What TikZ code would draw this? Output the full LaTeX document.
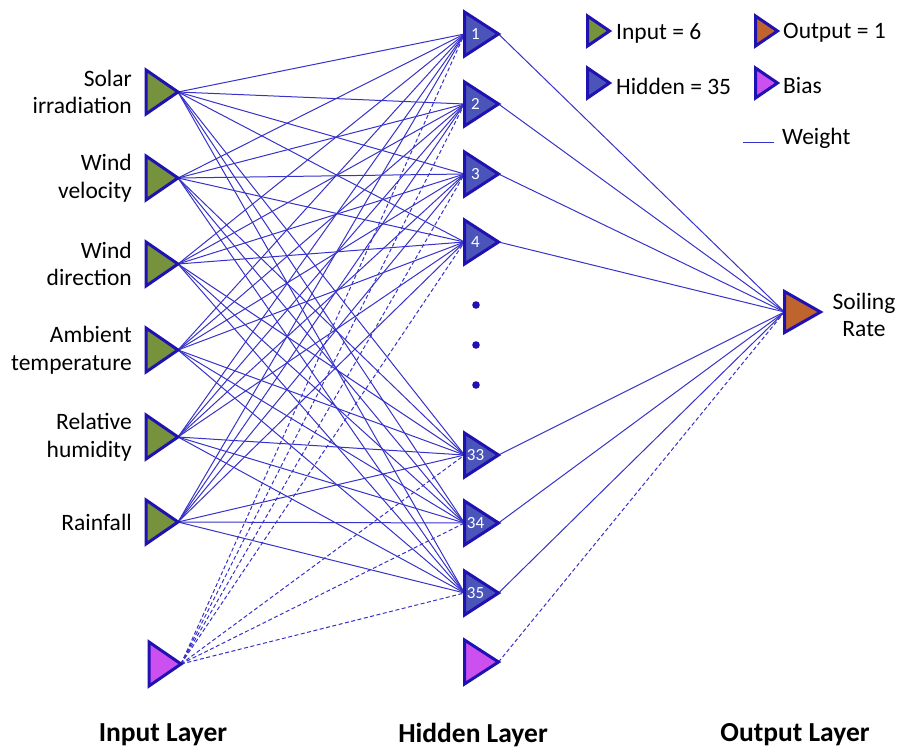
\documentclass[tikz,border=0pt]{standalone}
\usepackage{fontspec}
\setmainfont{Carlito}
\definecolor{edge}{RGB}{55,50,200}
\definecolor{rim}{RGB}{32,18,176}
\definecolor{ingreen}{RGB}{118,146,60}
\definecolor{hidblue}{RGB}{75,85,185}
\definecolor{outbrown}{RGB}{192,100,45}
\definecolor{biasviolet}{RGB}{204,80,240}
\begin{document}
\begin{tikzpicture}[x=1pt,y=-1pt,
  cell/.style={rectangle, draw=none, inner sep=0pt, outer sep=0pt,
               minimum width=32pt, minimum height=44pt},
  hcell/.style={cell, minimum width=34pt},
  ocell/.style={cell, minimum width=36pt, minimum height=41pt},
  lcell/.style={cell, minimum width=22pt, minimum height=30pt},
  tri/.style={draw=rim, line width=3pt, line join=miter},
  wire/.style={draw=edge, line width=1pt},
  biaswire/.style={wire, dash pattern=on 4pt off 2.5pt},
  num/.style={text=white, font=\fontsize{17}{18}\selectfont, inner sep=0pt},
  lbl/.style={font=\fontsize{23.5}{27.5}\selectfont, inner sep=0pt},
  layer/.style={font=\fontsize{27.5}{31}\selectfont\bfseries, inner sep=0pt}]
\useasboundingbox (0,0) rectangle (901,749);

% input neurons
\foreach \n/\y in {1/92,2/178,3/264,4/350,5/437,6/522}
  \node[cell] (i\n) at (162,\y) {};
\node[cell] (ib) at (165,664) {};
% hidden neurons
\foreach \n/\y in {1/34,2/104,3/174,4/242,33/455,34/523,35/593}
  \node[hcell] (h\n) at (481.5,\y) {};
\node[hcell] (hb) at (481.5,662) {};
% output neuron
\node[ocell] (o) at (802.5,312) {};

% weights
\foreach \a in {1,...,6}
  \foreach \b in {1,2,3,4,33,34,35}
    \draw[wire] (i\a.east) -- (h\b.west);
\foreach \b in {1,2,3,4,33,34,35} {
  \draw[biaswire] (ib.east) -- (h\b.west);
  \draw[wire] (h\b.east) -- (o.west);
}
\draw[biaswire] (hb.east) -- (o.west);

% neuron bodies
\foreach \n in {i1,i2,i3,i4,i5,i6}
  \filldraw[tri, fill=ingreen] (\n.north west) -- (\n.east) -- (\n.south west) -- cycle;
\foreach \n in {ib,hb}
  \filldraw[tri, fill=biasviolet] (\n.north west) -- (\n.east) -- (\n.south west) -- cycle;
\foreach \n in {1,2,3,4,33,34,35} {
  \filldraw[tri, fill=hidblue] (h\n.north west) -- (h\n.east) -- (h\n.south west) -- cycle;
  \node[num] at ([xshift=-6pt]h\n.center) {\n};
}
\filldraw[tri, fill=outbrown] (o.north west) -- (o.east) -- (o.south west) -- cycle;

% ellipsis between hidden neurons
\foreach \y [count=\k] in {305,345,385}
  \fill[rim] (476,\y) circle (3.8pt) coordinate (dot\k);

% input labels
\node[lbl, anchor=east, align=right] (t1) at ([xshift=-14pt]i1.west) {Solar\\irradiation};
\node[lbl, anchor=east, align=right] (t2) at ([xshift=-14pt]i2.west) {Wind\\velocity};
\node[lbl, anchor=east, align=right] (t3) at ([xshift=-14pt]i3.west) {Wind\\direction};
\node[lbl, anchor=east, align=right] (t4) at ([xshift=-14pt]i4.west) {Ambient\\temperature};
\node[lbl, anchor=east, align=right] (t5) at ([xshift=-14pt]i5.west) {Relative\\humidity};
\node[lbl, anchor=east, align=right] (t6) at ([xshift=-14pt]i6.west) {Rainfall};
\node[lbl, align=center] (tout) at (864,315) {Soiling\\Rate};

% legend
\node[lcell] (lin) at (598.5,31) {};
\node[lcell] (lhid) at (598.5,83) {};
\node[lcell] (lout) at (766.5,31) {};
\node[lcell] (lbias) at (766.5,83) {};
\filldraw[tri, fill=ingreen] (lin.north west) -- (lin.east) -- (lin.south west) -- cycle;
\filldraw[tri, fill=hidblue] (lhid.north west) -- (lhid.east) -- (lhid.south west) -- cycle;
\filldraw[tri, fill=outbrown] (lout.north west) -- (lout.east) -- (lout.south west) -- cycle;
\filldraw[tri, fill=biasviolet] (lbias.north west) -- (lbias.east) -- (lbias.south west) -- cycle;
\node[lbl, anchor=west] at (616,33) {Input = 6};
\node[lbl, anchor=west] at (616,86) {Hidden = 35};
\node[lbl, anchor=west] at (783,33) {Output = 1};
\node[lbl, anchor=west] at (783,86) {Bias};
\coordinate (w0) at (743,142);
\coordinate (w1) at (774,142);
\draw[wire] (w0) -- (w1);
\node[lbl, anchor=west] at (782,138) {Weight};

% layer captions
\node[layer] (cin) at (163,735) {Input Layer};
\node[layer] (chid) at (473,735) {Hidden Layer};
\node[layer] (cout) at (795,735) {Output Layer};
\end{tikzpicture}
\end{document}
